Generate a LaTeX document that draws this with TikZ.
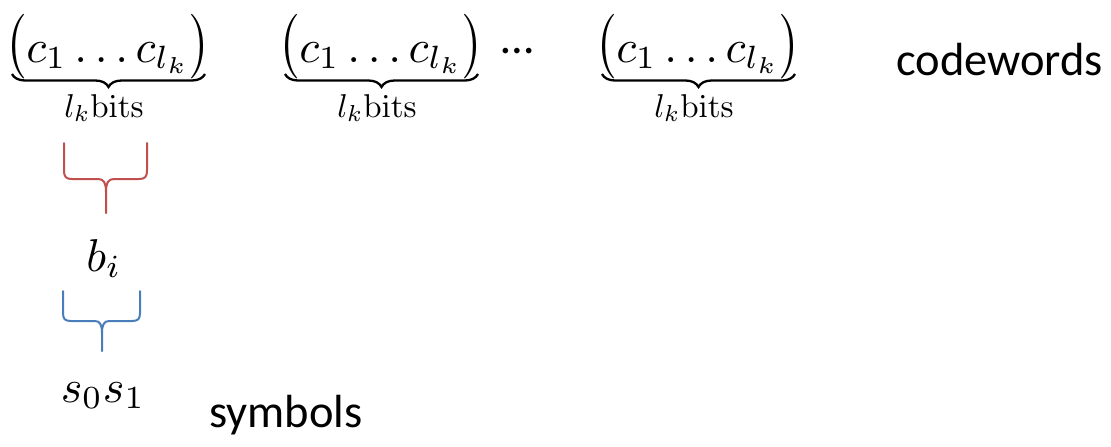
\documentclass[tikz,border=0pt]{standalone}
\usepackage{amsmath}
\usepackage[no-math]{fontspec}
\usetikzlibrary{decorations.pathreplacing}
\newfontfamily\calibri{Carlito}
\definecolor{bracered}{HTML}{C0504D}
\definecolor{braceblue}{HTML}{4A7EBB}
% math set at 10pt and enlarged as a whole
\newcommand{\bigmath}[1]{\scalebox{4.6}{$#1$}}
\newcommand{\labelmath}[1]{\scalebox{3.3}{$#1$}}
% slightly taller, slightly raised parentheses
\newcommand{\cwopen}{\mathopen{\raisebox{0.5pt}{\scalebox{1}[1.17]{$\bigl($}}}}
\newcommand{\cwclose}{\mathclose{\raisebox{0.5pt}{\scalebox{1}[1.17]{$\bigr)$}}}}
\newcommand{\codeword}{\bigmath{\cwopen c_1 \ldots c_{l_k}\cwclose}}
\begin{document}
\begin{tikzpicture}[x=1pt,y=-1pt,
  mathlbl/.style={inner sep=0pt},
  word/.style={inner sep=0pt,font=\calibri\fontsize{46.5}{55}\selectfont},
  underbr/.style={decorate,decoration={brace,mirror,amplitude=13pt},line width=2.3pt},
  brace/.style={line width=2pt,line join=round,line cap=round}]
\useasboundingbox (0,0) rectangle (1111,447);

% codewords row, each with its brace and bit count
\foreach \n/\x in {1/108,2/381,3/698} {
  \node[mathlbl,anchor=base] (cw\n) at (\x,62) {\codeword};
  \coordinate (bl\n) at (\x-96,74);
  \coordinate (br\n) at (\x+97,74);
  \draw[underbr] (bl\n) -- (br\n);
  \node[mathlbl,anchor=base] (len\n) at (\x-4,117) {\labelmath{l_k\mathrm{bits}}};
}
\node[word,anchor=base] (dots) at (518,53) {…};
\node[word,anchor=base west] (cwtxt) at (896,75) {codewords};

% red brace: l_k bits -> b_i
\draw[brace,bracered] (64,143) -- (64,170) .. controls (64,177) and (66,179) .. (72,179)
  -- (98,179) .. controls (104,179) and (106,183) .. (106,192) -- (106,213);
\draw[brace,bracered] (147,143) -- (147,170) .. controls (147,177) and (145,179) .. (139,179)
  -- (114,179) .. controls (108,179) and (106,183) .. (106,192);

\node[mathlbl,anchor=base] (b) at (104,271) {\bigmath{b_i}};

% blue brace: b_i -> symbols
\draw[brace,braceblue] (63,291) -- (63,313) .. controls (63,319) and (65,321) .. (71,321)
  -- (95,321) .. controls (100,321) and (102,325) .. (102,333) -- (102,351);
\draw[brace,braceblue] (140,291) -- (140,313) .. controls (140,319) and (138,321) .. (132,321)
  -- (109,321) .. controls (104,321) and (102,325) .. (102,333);

\node[mathlbl,anchor=base] (s) at (103,402) {\bigmath{s_0s_1}};
\node[word,anchor=base west] (symtxt) at (209,427) {symbols};
\end{tikzpicture}
\end{document}
